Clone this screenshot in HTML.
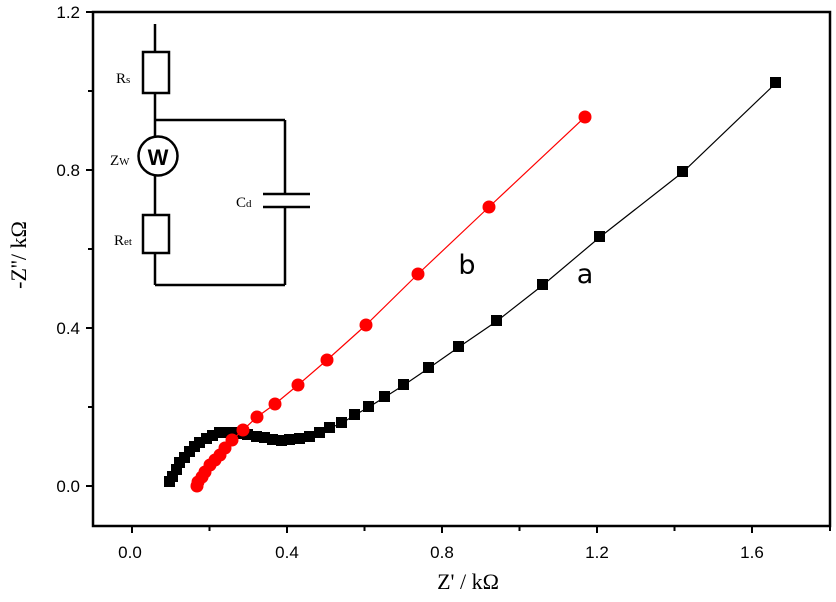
<!DOCTYPE html>
<html><head><meta charset="utf-8"><style>
html,body{margin:0;padding:0;background:#fff;}
svg{display:block;}
</style></head><body>
<svg width="836" height="602" viewBox="0 0 836 602" xmlns="http://www.w3.org/2000/svg">
<rect width="836" height="602" fill="#fff"/>
<rect x="93" y="12" width="737" height="514" fill="none" stroke="#000" stroke-width="2.5"/>
<g stroke="#000" stroke-width="2">
<line x1="132" y1="526" x2="132" y2="533"/>
<line x1="209.5" y1="526" x2="209.5" y2="531"/>
<line x1="287" y1="526" x2="287" y2="533"/>
<line x1="364.5" y1="526" x2="364.5" y2="531"/>
<line x1="442" y1="526" x2="442" y2="533"/>
<line x1="519.5" y1="526" x2="519.5" y2="531"/>
<line x1="597" y1="526" x2="597" y2="533"/>
<line x1="674.5" y1="526" x2="674.5" y2="531"/>
<line x1="752" y1="526" x2="752" y2="533"/>
<line x1="830" y1="526" x2="830" y2="531"/>
<line x1="93" y1="486" x2="86" y2="486"/>
<line x1="93" y1="407" x2="88" y2="407"/>
<line x1="93" y1="328" x2="86" y2="328"/>
<line x1="93" y1="249" x2="88" y2="249"/>
<line x1="93" y1="170" x2="86" y2="170"/>
<line x1="93" y1="91" x2="88" y2="91"/>
<line x1="93" y1="12" x2="86" y2="12"/>
</g>
<g font-family="Liberation Sans, sans-serif" font-size="17" fill="#000">
<text x="130" y="558" text-anchor="middle">0.0</text>
<text x="287" y="558" text-anchor="middle">0.4</text>
<text x="442" y="558" text-anchor="middle">0.8</text>
<text x="597" y="558" text-anchor="middle">1.2</text>
<text x="752" y="558" text-anchor="middle">1.6</text>
<text x="80" y="492" text-anchor="end">0.0</text>
<text x="80" y="334" text-anchor="end">0.4</text>
<text x="80" y="176" text-anchor="end">0.8</text>
<text x="80" y="18" text-anchor="end">1.2</text>
</g>
<text x="468" y="589" text-anchor="middle" font-family="Liberation Serif, serif" font-size="22">Z' / kΩ</text>
<text transform="translate(26,255) rotate(-90)" text-anchor="middle" font-family="Liberation Serif, serif" font-size="22">-Z''/ kΩ</text>

<g stroke="#000" stroke-width="2.5" fill="none">
<line x1="155" y1="24" x2="155" y2="52"/>
<rect x="143" y="52" width="26" height="41"/>
<line x1="155" y1="93" x2="155" y2="137"/>
<line x1="155" y1="120" x2="285" y2="120"/>
<circle cx="158" cy="156" r="19.5"/>
<line x1="155" y1="176" x2="155" y2="215"/>
<rect x="143" y="215" width="26" height="38"/>
<line x1="155" y1="253" x2="155" y2="285"/>
<line x1="155" y1="285" x2="285" y2="285"/>
<line x1="285" y1="120" x2="285" y2="194"/>
<line x1="285" y1="207" x2="285" y2="285"/>
<line x1="263" y1="194" x2="310" y2="194"/>
<line x1="263" y1="207" x2="310" y2="207"/>
</g>
<text x="158" y="165" text-anchor="middle" font-family="Liberation Sans, sans-serif" font-weight="bold" font-size="22">W</text>
<g font-family="Liberation Serif, serif" font-size="15">
<text x="116" y="83">R<tspan font-size="11">s</tspan></text>
<text x="110" y="165">Z<tspan font-size="11">W</tspan></text>
<text x="236" y="207">C<tspan font-size="11">d</tspan></text>
<text x="114" y="245">R<tspan font-size="11">et</tspan></text>
</g>

<polyline fill="none" stroke="#000" stroke-width="1.2" points="170,482 173,477 177,470 180,463 185,458 190,452 195,447 200,443 207,439 213,436 220,433 227,433 233,433 240,434 248,435 257,437 265,438 273,440 282,441 290,440 300,439 310,437 320,433 330,428 342,423 355,415 369,407 385,397 404,385 429,368 459,347 497,321 543,285 600,237 683,172 776,83"/>
<g fill="#000">
<rect x="164" y="476" width="11" height="11"/><rect x="167" y="471" width="11" height="11"/><rect x="171" y="464" width="11" height="11"/><rect x="174" y="457" width="11" height="11"/><rect x="179" y="452" width="11" height="11"/><rect x="184" y="446" width="11" height="11"/><rect x="189" y="441" width="11" height="11"/><rect x="194" y="437" width="11" height="11"/><rect x="201" y="433" width="11" height="11"/><rect x="207" y="430" width="11" height="11"/><rect x="214" y="427" width="11" height="11"/><rect x="221" y="427" width="11" height="11"/><rect x="227" y="427" width="11" height="11"/><rect x="234" y="428" width="11" height="11"/><rect x="242" y="429" width="11" height="11"/><rect x="251" y="431" width="11" height="11"/><rect x="259" y="432" width="11" height="11"/><rect x="267" y="434" width="11" height="11"/><rect x="276" y="435" width="11" height="11"/><rect x="284" y="434" width="11" height="11"/><rect x="294" y="433" width="11" height="11"/><rect x="304" y="431" width="11" height="11"/><rect x="314" y="427" width="11" height="11"/><rect x="324" y="422" width="11" height="11"/><rect x="336" y="417" width="11" height="11"/><rect x="349" y="409" width="11" height="11"/><rect x="363" y="401" width="11" height="11"/><rect x="379" y="391" width="11" height="11"/><rect x="398" y="379" width="11" height="11"/><rect x="423" y="362" width="11" height="11"/><rect x="453" y="341" width="11" height="11"/><rect x="491" y="315" width="11" height="11"/><rect x="537" y="279" width="11" height="11"/><rect x="594" y="231" width="11" height="11"/><rect x="677" y="166" width="11" height="11"/><rect x="770" y="77" width="11" height="11"/>
</g>

<polyline fill="none" stroke="#f00" stroke-width="1.2" points="197,486 198,482 202,477 205,472 210,465 215,460 220,455 225,448 232,440 243,430 257,417 275,404 298,385 327,360 366,325 418,274 489,207 585,117"/>
<g fill="#f00">
<circle cx="197" cy="486" r="6.5"/><circle cx="198" cy="482" r="6.5"/><circle cx="202" cy="477" r="6.5"/><circle cx="205" cy="472" r="6.5"/><circle cx="210" cy="465" r="6.5"/><circle cx="215" cy="460" r="6.5"/><circle cx="220" cy="455" r="6.5"/><circle cx="225" cy="448" r="6.5"/><circle cx="232" cy="440" r="6.5"/><circle cx="243" cy="430" r="6.5"/><circle cx="257" cy="417" r="6.5"/><circle cx="275" cy="404" r="6.5"/><circle cx="298" cy="385" r="6.5"/><circle cx="327" cy="360" r="6.5"/><circle cx="366" cy="325" r="6.5"/><circle cx="418" cy="274" r="6.5"/><circle cx="489" cy="207" r="6.5"/><circle cx="585" cy="117" r="6.5"/>
</g>
<g font-family="DejaVu Sans, Liberation Sans, sans-serif" font-size="27">
<text x="467" y="274" text-anchor="middle">b</text>
<text x="585" y="283" text-anchor="middle">a</text>
</g>
</svg>
</body></html>
